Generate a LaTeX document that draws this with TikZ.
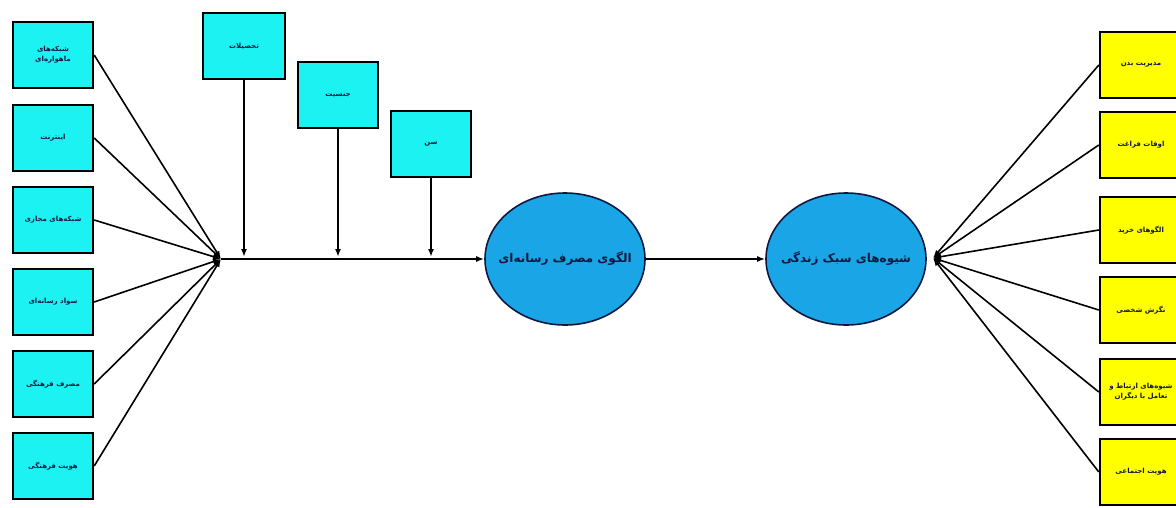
\documentclass[tikz,border=0pt]{standalone}
\usepackage{fontspec}
\newfontfamily\fa[Script=Arabic]{DejaVu Sans}
\TeXXeTstate=1
\usetikzlibrary{arrows.meta,shapes.geometric}
\definecolor{cyanbox}{HTML}{1CF2F2}
\definecolor{ellblue}{HTML}{1AA6E6}
\definecolor{yelfill}{HTML}{FFFF00}
\definecolor{txt}{HTML}{101840}
\begin{document}
\begin{tikzpicture}[x=1pt,y=-1pt,
  box/.style={draw=black, line width=2.4pt, minimum width=80pt, minimum height=66pt, align=center, inner sep=1pt, text=txt, font=\fa\bfseries\fontsize{7}{10}\selectfont},
  cbox/.style={box, fill=cyanbox},
  yelbox/.style={box, fill=yelfill, minimum width=82pt},
  ell/.style={ellipse, draw=txt, line width=1.6pt, fill=ellblue, minimum width=160pt, minimum height=132pt, inner xsep=-25pt, inner ysep=0pt, text=txt, font=\fa\bfseries\fontsize{12}{14}\selectfont},
  conn/.style={draw=black, line width=1.6pt},
  tip/.style={-{Latex[length=8pt,width=6pt]}}
]
\useasboundingbox (0,0) rectangle (1176,507);
\fill[white] (0,0) rectangle (1176,507);
\clip (0,0) rectangle (1176,507);

% left boxes
\node[cbox] (L1) at (53,55)  {\beginR شبکه^^^^200cهای\endR\\\beginR ماهواره^^^^200cای\endR};
\node[cbox] (L2) at (53,138) {\beginR اینترنت\endR};
\node[cbox] (L3) at (53,220) {\beginR شبکه^^^^200cهای مجازی\endR};
\node[cbox] (L4) at (53,302) {\beginR سواد رسانه^^^^200cای\endR};
\node[cbox] (L5) at (53,384) {\beginR مصرف فرهنگی\endR};
\node[cbox] (L6) at (53,466) {\beginR هویت فرهنگی\endR};

% top boxes
\node[cbox, minimum width=82pt] (T1) at (244,46)  {\beginR تحصیلات\endR};
\node[cbox] (T2) at (338,95)  {\beginR جنسیت\endR};
\node[cbox] (T3) at (431,144) {\beginR سن\endR};

% ellipses
\node[ell] (E1) at (565,259) {\beginR الگوی مصرف رسانه^^^^200cای\endR};
\node[ell] (E2) at (846,259) {\beginR شیوه^^^^200cهای سبک زندگی\endR};

% right boxes
\node[yelbox] (R1) at (1141,65)  {\beginR مدیریت بدن\endR};
\node[yelbox] (R2) at (1141,145) {\beginR اوقات فراغت\endR};
\node[yelbox] (R3) at (1141,230) {\beginR الگوهای خرید\endR};
\node[yelbox] (R4) at (1141,310) {\beginR نگرش شخصی\endR};
\node[yelbox] (R5) at (1141,392) {\beginR شیوه^^^^200cهای ارتباط و\endR\\\beginR تعامل با دیگران\endR};
\node[yelbox] (R6) at (1141,472) {\beginR هویت اجتماعی\endR};

% connectors
\coordinate (c1) at (221,259);
\coordinate (c2) at (933,258);
\foreach \n in {L1,L2,L3,L4,L5,L6} \draw[conn,tip] (\n.east) -- (c1);
\draw[conn,tip] (c1) -- (E1.west);
\foreach \n in {T1,T2,T3} \draw[conn,tip,shorten >=2pt] (\n.south) -- (\n.south |- c1);
\draw[draw=black, line width=2.6pt, tip] (E1.east) -- (E2.west);
\foreach \n in {R1,R2,R3,R4,R5,R6} \draw[conn,tip] (\n.west) -- (c2);
\end{tikzpicture}
\end{document}
